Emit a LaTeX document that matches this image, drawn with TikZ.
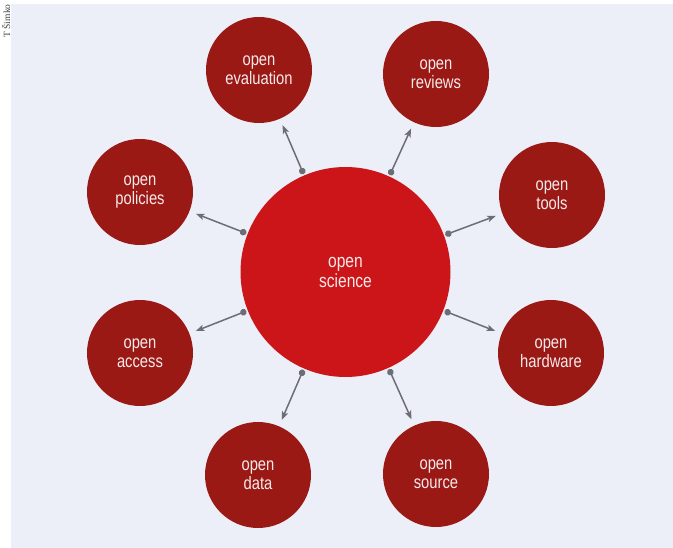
\documentclass[tikz,border=0pt]{standalone}
\usepackage{fontspec}
\usepackage{xcolor}
\newfontfamily\labelfont[FakeStretch=0.82]{Liberation Sans}
\newfontfamily\creditfont{Liberation Serif}
\definecolor{hubred}{RGB}{204,21,25}
\definecolor{spokered}{RGB}{155,25,21}
\definecolor{panelbg}{RGB}{236,239,248}
\definecolor{arrowgray}{RGB}{108,110,116}
\definecolor{labelwhite}{RGB}{246,234,234}
\usetikzlibrary{arrows.meta}

\begin{document}
\begin{tikzpicture}[
    x=1pt, y=-1pt,
    hub/.style={circle, fill=hubred, minimum size=210pt, inner sep=0pt,
                outer sep=1.5pt, align=center, text=labelwhite,
                font=\labelfont\fontsize{19}{20}\selectfont},
    spoke/.style={circle, fill=spokered, minimum size=106pt, inner sep=0pt,
                  outer sep=7pt, align=center, text=labelwhite,
                  font=\labelfont\fontsize{18}{19}\selectfont},
    arr/.style={{Circle[length=6.5pt, width=6.5pt]}-{Stealth[length=8.5pt, width=6.5pt, inset=2pt]},
                line width=1.5pt, color=arrowgray},
    credit/.style={font=\creditfont\fontsize{9.5}{10}\selectfont, color=black!75,
                   inner sep=0pt}
]
    \useasboundingbox (0,0) rectangle (673,548);
    \fill[panelbg] (11,4) rectangle (673,548);
    \node[credit, rotate=90] (credit) at (6,21) {T Šimko};

    \node[hub]   (sci)      at (345.5,272) {open\\science};
    \node[spoke] (eval)     at (259,70)    {open\\evaluation};
    \node[spoke] (reviews)  at (436,74)    {open\\reviews};
    \node[spoke] (tools)    at (552,195)   {open\\tools};
    \node[spoke] (hardware) at (551,353)   {open\\hardware};
    \node[spoke] (source)   at (436,474)   {open\\source};
    \node[spoke] (data)     at (258,475)   {open\\data};
    \node[spoke] (access)   at (140,353)   {open\\access};
    \node[spoke] (policies) at (140,192)   {open\\policies};

    \draw[arr] (sci) -- (eval);
    \draw[arr] (sci) -- (reviews);
    \draw[arr] (sci) -- (tools);
    \draw[arr] (sci) -- (hardware);
    \draw[arr] (sci) -- (source);
    \draw[arr] (sci) -- (data);
    \draw[arr] (sci) -- (access);
    \draw[arr] (sci) -- (policies);
\end{tikzpicture}
\end{document}
